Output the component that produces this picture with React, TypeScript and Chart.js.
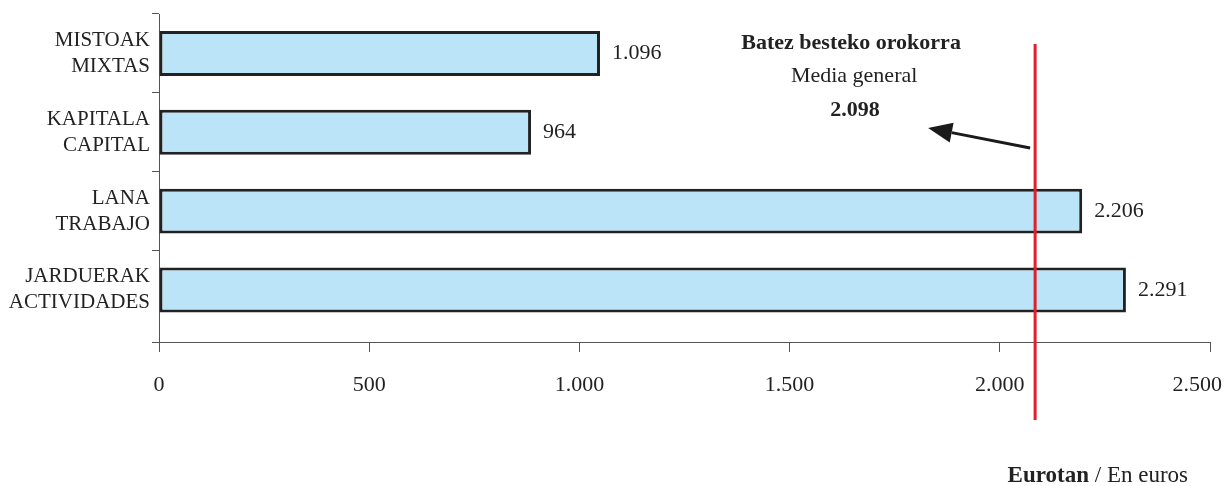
import React, { useEffect, useRef } from "react";
import { Chart, registerables } from "chart.js";

Chart.register(...registerables);

const categories: string[][] = [
  ["MISTOAK", "MIXTAS"],
  ["KAPITALA", "CAPITAL"],
  ["LANA", "TRABAJO"],
  ["JARDUERAK", "ACTIVIDADES"],
];
const barValues: number[] = [1049, 885, 2196, 2300];
const valueLabels: string[] = ["1.096", "964", "2.206", "2.291"];
const meanValue = 2084;
const meanTitle = "Batez besteko orokorra";
const meanSubtitle = "Media general";
const meanLabel = "2.098";
const unitBold = "Eurotan";
const unitNormal = " / En euros";
const xMin = 0;
const xMax = 2500;
const xStep = 500;

const FONT = "'Liberation Serif', 'Times New Roman', serif";
const AXIS = "#555";

function fmt(v: number): string {
  const s = Math.round(v).toString();
  return s.replace(/\B(?=(\d{3})+(?!\d))/g, ".");
}

const lastTickPlugin = {
  id: "lastTickShift",
  beforeDraw(chart: any) {
    const s = chart.scales.x;
    const items = s.getLabelItems();
    if (!items || !items.length) return;
    const last = items[items.length - 1];
    last.options.textAlign = "right";
    last.options.translation = [s.right + 12, last.options.translation[1]];
  },
  afterDraw(chart: any) {
    const ctx = chart.ctx;
    const a = chart.chartArea;
    ctx.save();
    ctx.strokeStyle = AXIS;
    ctx.lineWidth = 1;
    ctx.beginPath();
    ctx.moveTo(a.left - 7, a.bottom + 0.5);
    ctx.lineTo(a.left, a.bottom + 0.5);
    ctx.stroke();
    ctx.restore();
  },
};

const valueLabelPlugin = {
  id: "valueLabels",
  afterDatasetsDraw(chart: any) {
    const ctx = chart.ctx;
    const meta = chart.getDatasetMeta(0);
    ctx.save();
    ctx.font = `22px ${FONT}`;
    ctx.fillStyle = "#222";
    ctx.textAlign = "left";
    ctx.textBaseline = "middle";
    meta.data.forEach((el: any, i: number) => {
      ctx.fillText(valueLabels[i], el.x + 12, el.y);
    });
    ctx.restore();
  },
};

const annotationPlugin = {
  id: "meanAnnotation",
  afterDraw(chart: any) {
    const ctx = chart.ctx;
    const xs = chart.scales.x;
    const lx = xs.getPixelForValue(meanValue);
    ctx.save();
    // red mean line
    ctx.strokeStyle = "#e31e2b";
    ctx.lineWidth = 3;
    ctx.beginPath();
    ctx.moveTo(lx, 44);
    ctx.lineTo(lx, 420);
    ctx.stroke();
    // arrow
    const sx = lx - 5, sy = 148;
    const tx = lx - 107, ty = 128;
    const ang = Math.atan2(ty - sy, tx - sx);
    const headLen = 24, headW = 10;
    const bx = tx - headLen * Math.cos(ang);
    const by = ty - headLen * Math.sin(ang);
    ctx.strokeStyle = "#1a1a1a";
    ctx.fillStyle = "#1a1a1a";
    ctx.lineWidth = 3;
    ctx.beginPath();
    ctx.moveTo(sx, sy);
    ctx.lineTo(bx, by);
    ctx.stroke();
    ctx.beginPath();
    ctx.moveTo(tx, ty);
    ctx.lineTo(bx + headW * Math.sin(ang), by - headW * Math.cos(ang));
    ctx.lineTo(bx - headW * Math.sin(ang), by + headW * Math.cos(ang));
    ctx.closePath();
    ctx.fill();
    // texts
    const cx = lx - 184;
    ctx.fillStyle = "#222";
    ctx.textAlign = "center";
    ctx.textBaseline = "middle";
    ctx.font = `bold 22px ${FONT}`;
    ctx.fillText(meanTitle, cx, 43);
    ctx.font = `22px ${FONT}`;
    ctx.fillText(meanSubtitle, cx + 3, 76);
    ctx.font = `bold 22px ${FONT}`;
    ctx.fillText(meanLabel, cx + 4, 110);
    // unit note
    ctx.textAlign = "left";
    ctx.font = `23px ${FONT}`;
    const wN = ctx.measureText(unitNormal).width;
    ctx.font = `bold 23px ${FONT}`;
    const wB = ctx.measureText(unitBold).width;
    const right = 1188;
    ctx.fillText(unitBold, right - wN - wB, 476);
    ctx.font = `23px ${FONT}`;
    ctx.fillText(unitNormal, right - wN, 476);
    ctx.restore();
  },
};

export default function App() {
  const ref = useRef<HTMLCanvasElement | null>(null);
  useEffect(() => {
    document.body.style.margin = "0";
    if (!ref.current) return;
    Chart.defaults.font.family = FONT;
    const chart = new Chart(ref.current, {
      type: "bar",
      data: {
        labels: categories,
        datasets: [
          {
            data: barValues,
            backgroundColor: "#bbe4f8",
            borderColor: "#222",
            borderWidth: 3,
            borderSkipped: false,
            barPercentage: 1,
            categoryPercentage: 0.57,
          },
        ],
      },
      options: {
        indexAxis: "y",
        responsive: false,
        animation: false,
        layout: { padding: { top: 14, right: 15, left: 0, bottom: 0 } },
        plugins: {
          legend: { display: false },
          tooltip: { enabled: false },
        },
        scales: {
          x: {
            type: "linear",
            min: xMin,
            max: xMax,
            ticks: {
              stepSize: xStep,
              color: "#222",
              font: { size: 22, family: FONT },
              padding: 20,
              maxRotation: 0,
              callback: (v: any) => fmt(Number(v)),
            },
            grid: {
              drawOnChartArea: false,
              drawTicks: true,
              tickLength: 10,
              color: AXIS,
            },
            border: { color: AXIS, width: 1 },
            afterFit: (s: any) => {
              s.height = 144;
              s.paddingRight = 0;
              s.paddingLeft = 0;
            },
          },
          y: {
            type: "category",
            ticks: {
              color: "#222",
              font: { size: 21, family: FONT, lineHeight: 1.24 },
              padding: 2,
            },
            grid: {
              offset: true,
              drawOnChartArea: false,
              drawTicks: true,
              tickLength: 7,
              color: (c: any) => (c && c.tick ? AXIS : "rgba(0,0,0,0)"),
            },
            border: { color: AXIS, width: 1 },
            afterBuildTicks: (s: any) => {
              s._valueRange = s._valueRange + 0.16;
            },
            afterFit: (s: any) => {
              s.width = 159;
              s.paddingTop = 0;
              s.paddingBottom = 0;
            },
          },
        },
      },
      plugins: [lastTickPlugin, valueLabelPlugin, annotationPlugin],
    } as any);
    return () => chart.destroy();
  }, []);
  return (
    <canvas
      ref={ref}
      width={1225}
      height={486}
      style={{ display: "block", width: 1225, height: 486 }}
    />
  );
}
